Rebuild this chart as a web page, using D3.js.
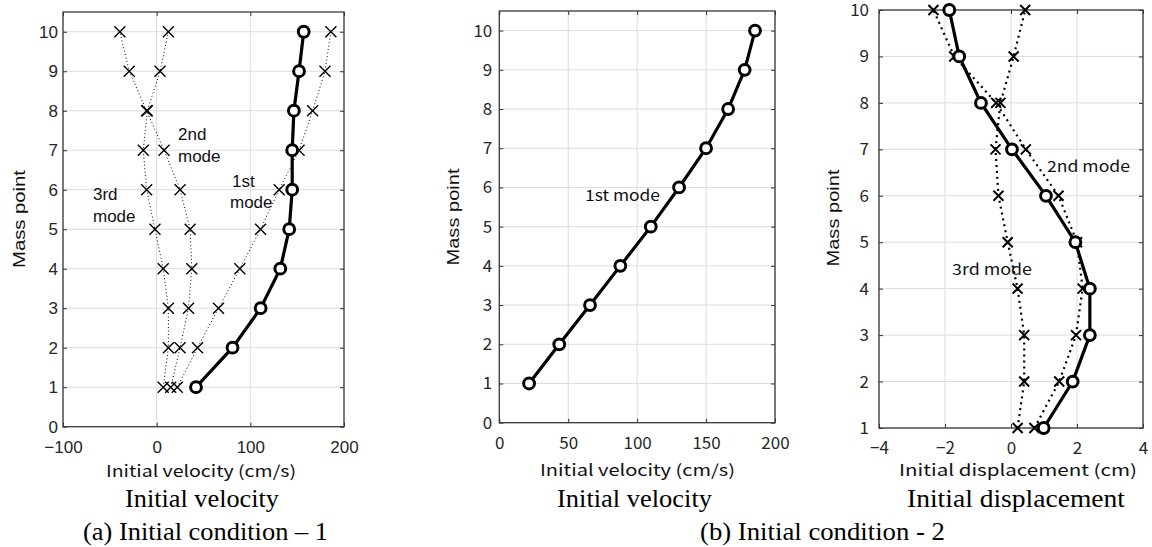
<!DOCTYPE html>
<html><head><meta charset="utf-8">
<script src="https://cdn.jsdelivr.net/npm/d3@7"></script>
<style>body{margin:0;background:#fff} svg{display:block}</style>
</head><body><svg id="c" width="1152" height="547"></svg>
<script>
// ---------- data ----------
const massPoints = [1, 2, 3, 4, 5, 6, 7, 8, 9, 10];
// (a) Initial condition - 1 : initial velocity (cm/s)
const aVelocityTotal = [42, 81, 111, 132, 141.5, 144.7, 144.7, 146.5, 152, 157];
const aVelocityMode1 = [22, 43.6, 66, 88.8, 110.9, 130.8, 152, 166.5, 179.7, 186];
const aVelocityMode2 = [15, 25, 34, 37.5, 35.7, 25, 7.9, -10.7, -29.3, -39.3];
const aVelocityMode3 = [7, 12.5, 12.5, 7, -1.8, -10.7, -14.3, -10, 3.6, 12.5];
// (b) Initial condition - 2 : initial velocity (cm/s), initial displacement (cm)
const bVelocityMode1 = [21.6, 43.5, 65.8, 87.8, 109.9, 130.4, 150, 166, 178, 185.5];
const bDisplacementTotal = [0.99, 1.87, 2.39, 2.39, 1.95, 1.06, 0.03, -0.91, -1.57, -1.87];
const bDisplacementMode2 = [0.71, 1.46, 1.97, 2.17, 2.0, 1.44, 0.45, -0.45, -1.72, -2.35];
const bDisplacementMode3 = [0.2, 0.4, 0.4, 0.2, -0.1, -0.38, -0.47, -0.32, 0.08, 0.43];
// tick values
const aXTicks = [-100, 0, 100, 200];
const bVelXTicks = [0, 50, 100, 150, 200];
const bDispXTicks = [-4, -2, 0, 2, 4];
const yTicks0to10 = [0, 1, 2, 3, 4, 5, 6, 7, 8, 9, 10];
const yTicks1to10 = [1, 2, 3, 4, 5, 6, 7, 8, 9, 10];

const svg = d3.select("#c");
const GOTHIC = "'Noto Sans CJK JP', 'Noto Sans', sans-serif";
const ARIAL = "'Liberation Sans', Arial, sans-serif";
const SERIF = "'Liberation Serif'";

function panel(c) {
  const x = d3.scaleLinear().domain(c.xDomain).range([c.left, c.right]);
  const y = d3.scaleLinear().domain(c.yDomain).range([c.bottom, c.top]);
  const g = svg.append("g");
  // grid
  g.selectAll(".gx").data(c.xTicks).join("line")
    .attr("x1", d => x(d)).attr("x2", d => x(d)).attr("y1", c.top).attr("y2", c.bottom)
    .attr("stroke", "#dcdcdc").attr("stroke-width", 1);
  g.selectAll(".gy").data(c.yTicks).join("line")
    .attr("y1", d => y(d)).attr("y2", d => y(d)).attr("x1", c.left).attr("x2", c.right)
    .attr("stroke", "#dcdcdc").attr("stroke-width", 1);
  const fmt = d3.format("");
  const ax = (sel) => sel.call(s => s.select(".domain").remove())
    .call(s => s.selectAll(".tick line").attr("stroke", "#333"))
    .call(s => s.selectAll("text").attr("fill", "#262626").attr("font-family", c.tickFont).attr("font-size", 17));
  g.append("g").attr("transform", `translate(0,${c.bottom})`)
    .call(d3.axisBottom(x).tickValues(c.xTicks).tickSizeInner(-4).tickSizeOuter(0).tickPadding(c.xPad).tickFormat(fmt)).call(ax);
  g.append("g").attr("transform", `translate(0,${c.top})`)
    .call(d3.axisTop(x).tickValues(c.xTicks).tickSizeInner(-4).tickSizeOuter(0).tickFormat("")).call(ax);
  g.append("g").attr("transform", `translate(${c.left},0)`)
    .call(d3.axisLeft(y).tickValues(c.yTicks).tickSizeInner(-4).tickSizeOuter(0).tickPadding(c.yPad).tickFormat(fmt)).call(ax);
  g.append("g").attr("transform", `translate(${c.right},0)`)
    .call(d3.axisRight(y).tickValues(c.yTicks).tickSizeInner(-4).tickSizeOuter(0).tickFormat("")).call(ax);
  // box
  g.append("rect").attr("x", c.left).attr("y", c.top).attr("width", c.right - c.left).attr("height", c.bottom - c.top)
    .attr("fill", "none").attr("stroke", "#3a3a3a").attr("stroke-width", 1.3);
  return {x, y, g};
}

function dotted(p, vals, w, dash) {
  const line = d3.line().x(d => p.x(d[0])).y(d => p.y(d[1]));
  p.g.append("path").datum(vals.map((v, i) => [v, massPoints[i]]))
    .attr("d", line).attr("fill", "none").attr("stroke", "#000").attr("stroke-width", w).attr("stroke-dasharray", dash);
}
function crosses(p, vals, s, w) {
  p.g.append("g").selectAll("path").data(vals.map((v, i) => [v, massPoints[i]])).join("path")
    .attr("d", d => { const cx = p.x(d[0]), cy = p.y(d[1]);
      return `M${cx - s},${cy - s}L${cx + s},${cy + s}M${cx - s},${cy + s}L${cx + s},${cy - s}`; })
    .attr("stroke", "#000").attr("stroke-width", w).attr("fill", "none");
}
function solid(p, vals) {
  const line = d3.line().x(d => p.x(d[0])).y(d => p.y(d[1]));
  const data = vals.map((v, i) => [v, massPoints[i]]);
  p.g.append("path").datum(data).attr("d", line).attr("fill", "none").attr("stroke", "#000").attr("stroke-width", 3.2);
  p.g.append("g").selectAll("circle").data(data).join("circle")
    .attr("cx", d => p.x(d[0])).attr("cy", d => p.y(d[1])).attr("r", 5.4)
    .attr("fill", "#fff").attr("stroke", "#000").attr("stroke-width", 3);
}
function text(str, x, y, opts) {
  const t = svg.append("text").attr("x", x).attr("y", y).text(str)
    .attr("font-family", opts.font).attr("font-size", opts.size).attr("fill", opts.fill || "#111")
    .attr("text-anchor", opts.anchor || "start");
  if (opts.len) t.attr("textLength", opts.len).attr("lengthAdjust", "spacingAndGlyphs");
  if (opts.rot) t.attr("transform", `rotate(-90,${x},${y})`);
  return t;
}

// ---------- panel (a) ----------
const pA = panel({left: 63, right: 344, top: 12, bottom: 426.7, xDomain: [-100, 200], yDomain: [0, 10.5],
  xTicks: aXTicks, yTicks: yTicks0to10, tickFont: ARIAL, xPad: 14, yPad: 5});
dotted(pA, aVelocityMode1, 1, "1,2.5");
dotted(pA, aVelocityMode2, 1, "1,2.5");
dotted(pA, aVelocityMode3, 1, "1,2.5");
crosses(pA, aVelocityMode1, 5.5, 1.4);
crosses(pA, aVelocityMode2, 5.5, 1.4);
crosses(pA, aVelocityMode3, 5.5, 1.4);
solid(pA, aVelocityTotal);

// ---------- panel (b) velocity ----------
const pB = panel({left: 499.3, right: 775, top: 11, bottom: 422.7, xDomain: [0, 200], yDomain: [0, 10.5],
  xTicks: bVelXTicks, yTicks: yTicks0to10, tickFont: GOTHIC, xPad: 14, yPad: 7});
solid(pB, bVelocityMode1);

// ---------- panel (b) displacement ----------
const pC = panel({left: 879, right: 1143, top: 10, bottom: 428, xDomain: [-4, 4], yDomain: [1, 10],
  xTicks: bDispXTicks, yTicks: yTicks1to10, tickFont: GOTHIC, xPad: 14, yPad: 10});
dotted(pC, bDisplacementMode2, 2.2, "2,4");
dotted(pC, bDisplacementMode3, 2.2, "2,4");
crosses(pC, bDisplacementMode2, 5, 2);
crosses(pC, bDisplacementMode3, 5, 2);
solid(pC, bDisplacementTotal);

// ---------- annotations ----------
const an = {font: ARIAL, size: 17};
text("2nd", 178, 140, an); text("mode", 178, 161.5, an);
text("1st", 232, 186.5, an); text("mode", 230, 208, an);
text("3rd", 93, 199.5, an); text("mode", 93, 221.5, an);
const an2 = {font: GOTHIC, size: 15};
text("1st mode", 585, 201, Object.assign({len: 75}, an2));
text("2nd mode", 1047, 172, Object.assign({len: 83}, an2));
text("3rd mode", 952, 275, Object.assign({len: 80}, an2));

// ---------- axis labels ----------
text("Mass point", 25, 219, {font: ARIAL, size: 17, anchor: "middle", rot: true, len: 98});
text("Mass point", 459, 217, {font: ARIAL, size: 17, anchor: "middle", rot: true, len: 97});
text("Mass point", 839, 218, {font: ARIAL, size: 17, anchor: "middle", rot: true, len: 97});
text("Initial velocity (cm/s)", 201, 477, {font: GOTHIC, size: 16, anchor: "middle", len: 190});
text("Initial velocity (cm/s)", 637.5, 476, {font: GOTHIC, size: 16, anchor: "middle", len: 195});
text("Initial displacement (cm)", 1018, 476, {font: GOTHIC, size: 16, anchor: "middle", len: 238});

// ---------- captions ----------
const cap = {font: SERIF, size: 25, fill: "#000", anchor: "middle"};
text("Initial velocity", 202, 507, Object.assign({len: 154}, cap));
text("Initial velocity", 634.5, 507, Object.assign({len: 155}, cap));
text("Initial displacement", 1016, 507, Object.assign({len: 218}, cap));
text("(a) Initial condition \u2013 1", 205.5, 540, Object.assign({len: 245}, cap));
text("(b) Initial condition - 2", 822.5, 540, Object.assign({len: 245}, cap));
</script>
</body></html>
